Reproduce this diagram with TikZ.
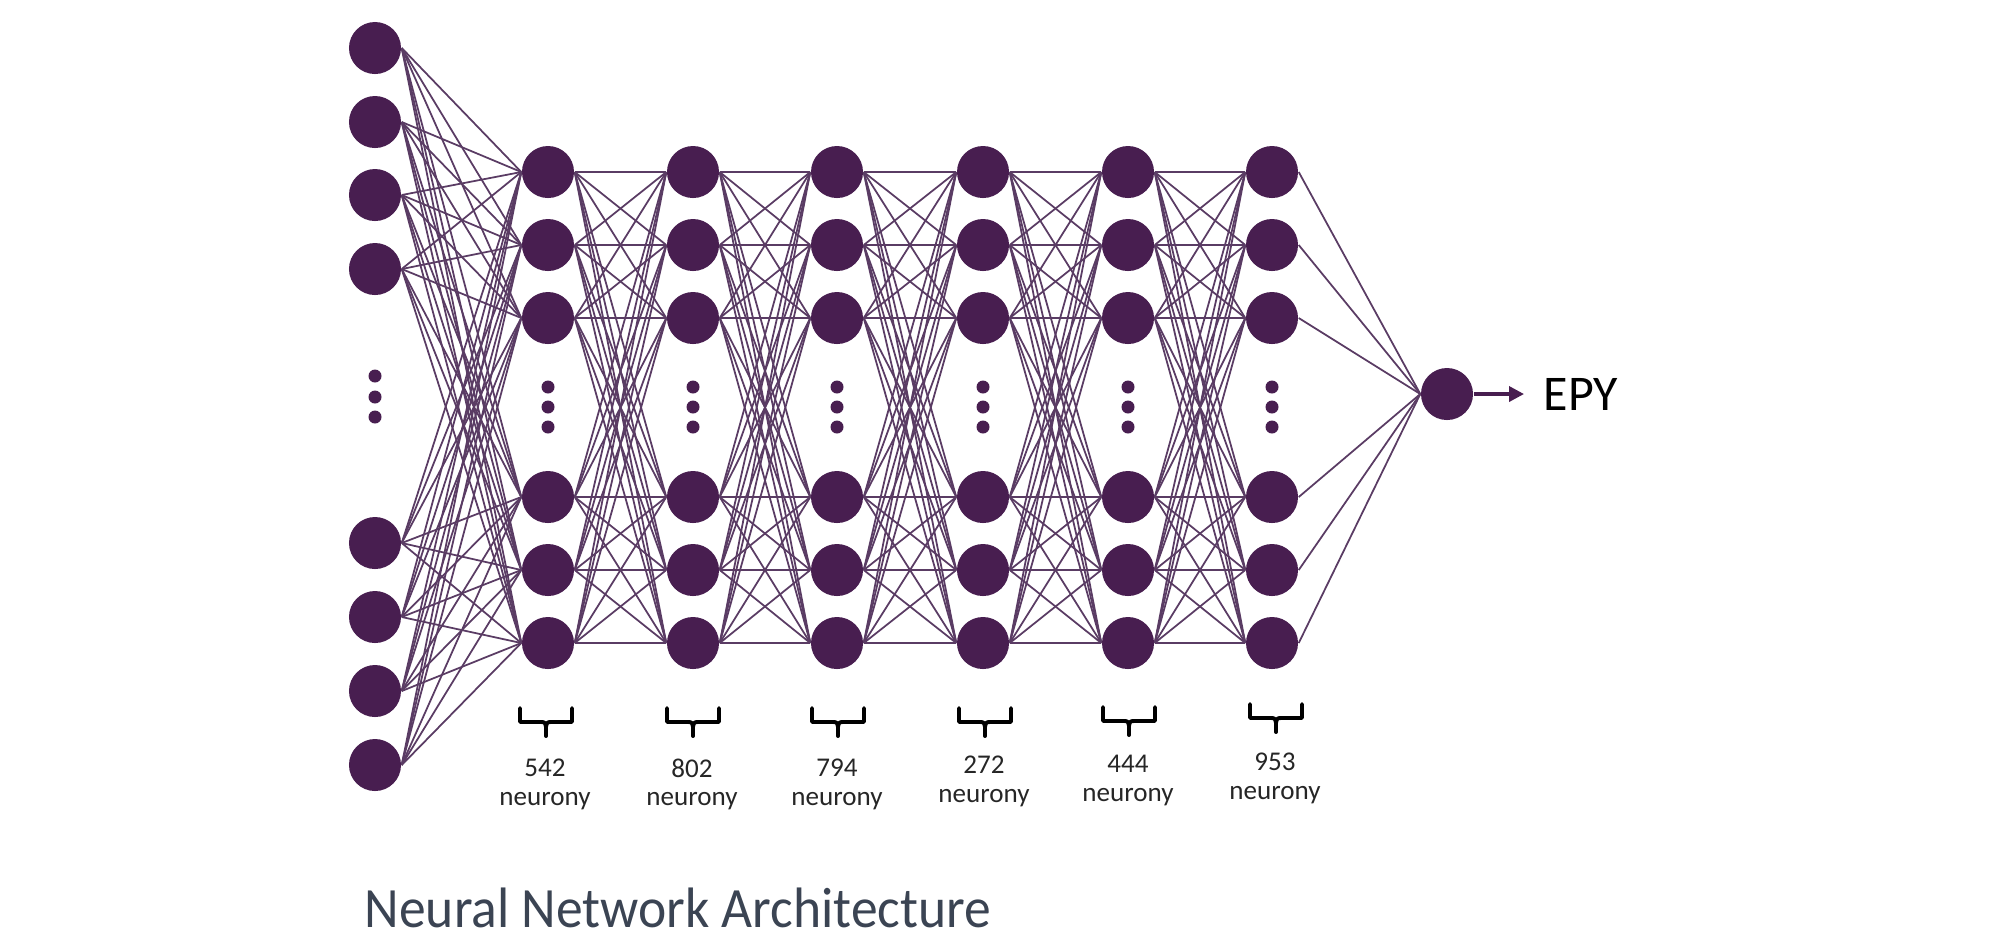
\documentclass[tikz,border=0pt]{standalone}
\usepackage{fontspec}
\setmainfont{Carlito}
\usetikzlibrary{arrows.meta}
\definecolor{nodepurple}{HTML}{481E50}
\definecolor{edgepurple}{HTML}{5A3C64}
\definecolor{titlegray}{HTML}{3B4453}
\begin{document}
\begin{tikzpicture}[x=0.01cm,y=-0.01cm,
  neuron/.style={circle,fill=nodepurple,draw=none,minimum size=0.52cm,inner sep=0pt},
  smalldot/.style={circle,fill=nodepurple,draw=none,minimum size=0.13cm,inner sep=0pt},
  edge/.style={draw=edgepurple,line width=0.5pt},
  bracestyle/.style={draw=black,line width=1.1pt,line cap=round,line join=round},
  lbl/.style={font=\fontsize{7.7}{9}\selectfont,text=black!85,inner sep=0pt}]
\useasboundingbox (0,0) rectangle (2000,938);
% input layer
\foreach \y [count=\i] in {48,122,195,269,543,617,691,765}
  \node[neuron] (i\i) at (375,\y) {};
\foreach \y [count=\i] in {376,397,417}
  \node[smalldot] (id\i) at (375,\y) {};
% hidden layers
\foreach \x [count=\l] in {548,693,837,983,1128,1272} {
  \foreach \y [count=\k] in {172,245,318,497,570,643}
    \node[neuron] (h\l-\k) at (\x,\y) {};
  \foreach \y [count=\k] in {387,407,427}
    \node[smalldot] (hd\l-\k) at (\x,\y) {};
}
% output
\node[neuron] (out) at (1447,394) {};
% edges input -> hidden1
\foreach \i in {1,...,8}
  \foreach \k in {1,...,6}
    \draw[edge] (i\i.east) -- (h1-\k.west);
% edges hidden -> hidden
\foreach \l in {1,...,5} {
  \pgfmathtruncatemacro{\m}{\l+1}
  \foreach \a in {1,...,6}
    \foreach \b in {1,...,6}
      \draw[edge] (h\l-\a.east) -- (h\m-\b.west);
}
% hidden6 -> output
\foreach \k in {1,...,6}
  \draw[edge] (h6-\k.east) -- (out.west);
% output arrow
\coordinate (arrowend) at (1524,394);
\draw[draw=nodepurple,line width=1pt,-{Triangle[length=0.15cm,width=0.15cm]}] (out.east) -- (arrowend);
\node[font=\fontsize{14.2}{16}\selectfont,text=black,anchor=west,inner sep=0pt] (epy) at (1543,394) {EPY};
% braces and labels
\foreach \x/\t/\ny/\num [count=\c] in {546/708/768/542,693/708/768/802,838/708/768/794,985/708/765/272,1129/707/764/444,1276/704/762/953} {
  \draw[bracestyle] ({\x-26},{\t}) -- ({\x-26},{\t+14}) -- ({\x-6},{\t+14})
     .. controls ({\x-1},{\t+14}) .. ({\x},{\t+19})
     .. controls ({\x+1},{\t+14}) .. ({\x+6},{\t+14}) -- ({\x+26},{\t+14}) -- ({\x+26},{\t});
  \draw[bracestyle] ({\x},{\t+17}) -- ({\x},{\t+28});
  \node[lbl] (num\c) at ({\x-1},\ny) {\num};
  \node[lbl] (neu\c) at ({\x-1},{\ny+33}) {neurony};
}
% title
\node[anchor=base west,inner sep=0pt,text=titlegray,font=\fontsize{16.2}{19}\selectfont] (title) at (364,927) {\scalebox{0.94}[1]{Neural Network Architecture}};
\end{tikzpicture}
\end{document}
